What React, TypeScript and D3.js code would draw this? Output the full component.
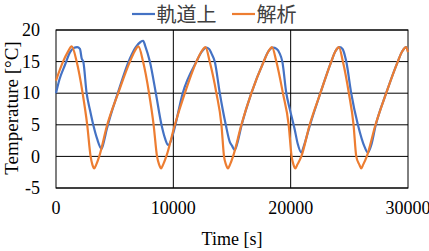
import React from "react";
import * as d3 from "d3";

const orbitT = [0, 300, 770, 1200, 1550, 1800, 2040, 2190, 2325, 2610, 2900, 3175, 3500, 3890, 4100, 4315, 5300, 6300, 6800, 7200, 7430, 7600, 8000, 8510, 8990, 9300, 9560, 9800, 10040, 10800, 11970, 12400, 12800, 13050, 13250, 13530, 13960, 14470, 14810, 15000, 15230, 15510, 15800, 16650, 17700, 18100, 18490, 18800, 19060, 19290, 19630, 19910, 20340, 20600, 20910, 21100, 21620, 22530, 23460, 23800, 24170, 24420, 24680, 24740, 25160, 25730, 26300, 26580, 26870, 27230, 28140, 29130, 29500, 29840, 30000];
const orbitV = [10.0, 12.2, 14.5, 16.5, 17.2, 17.3, 17.0, 15.5, 15.0, 10.0, 7.3, 5.0, 2.8, 1.2, 2.5, 4.2, 10.2, 15.5, 17.3, 18.1, 18.3, 17.5, 15.0, 10.0, 5.0, 2.8, 1.8, 2.5, 4.0, 10.0, 15.0, 16.5, 17.2, 17.0, 16.3, 15.0, 10.0, 5.0, 2.3, 1.7, 1.0, 2.5, 4.8, 10.0, 15.0, 16.6, 17.2, 17.0, 16.3, 15.0, 10.0, 7.6, 4.3, 2.0, 0.6, 1.5, 4.8, 10.0, 15.0, 16.6, 17.3, 17.0, 15.5, 15.0, 10.0, 5.0, 1.5, 0.6, 1.8, 4.8, 10.0, 15.0, 16.6, 17.3, 16.6];

const analT = [0, 600, 1000, 1340, 1760, 2270, 2660, 2950, 3100, 3260, 3430, 3685, 4365, 5300, 6300, 6700, 7020, 7420, 7930, 8320, 8610, 8790, 8960, 9130, 9400, 10130, 10980, 11970, 12400, 12740, 13100, 13670, 14100, 14320, 14490, 14660, 14830, 15090, 15800, 16650, 17700, 18100, 18410, 18780, 19340, 19830, 20080, 20240, 20400, 20570, 20910, 21620, 22530, 23460, 23800, 24110, 24450, 24960, 25360, 25590, 25850, 26010, 26180, 26490, 27230, 28140, 29130, 29500, 29840, 30000];
const analV = [12.0, 15.0, 16.5, 17.4, 15.0, 10.0, 5.0, 0.0, -1.3, -1.9, -1.3, 0.0, 5.0, 10.0, 15.0, 16.6, 17.4, 15.0, 10.0, 5.0, 0.0, -1.3, -1.9, -1.3, 0.0, 5.0, 10.0, 15.0, 16.6, 17.3, 15.0, 10.0, 5.0, 0.0, -1.3, -1.9, -1.3, 0.0, 5.0, 10.0, 15.0, 16.6, 17.3, 15.0, 10.0, 5.0, 0.0, -1.3, -1.9, -1.3, 0.0, 5.0, 10.0, 15.0, 16.6, 17.3, 15.0, 10.0, 5.0, 0.0, -1.3, -1.9, -1.3, 0.0, 5.0, 10.0, 15.0, 16.6, 17.3, 16.5];

const xTicks = [0, 10000, 20000, 30000];
const xGrid = [10000, 20000];
const yTicks = [-5, 0, 5, 10, 15, 20];
const seriesNames = ["軌道上", "解析"];
const seriesColors = ["#4472C4", "#ED7D31"];

export default function App() {
  const W = 429, H = 251;
  const L = 56, R = 408, T = 30, B = 188;
  const x = d3.scaleLinear().domain([0, 30000]).range([L, R]);
  const y = d3.scaleLinear().domain([-5, 20]).range([B, T]);
  const line = d3.line<[number, number]>().x(d => x(d[0])).y(d => y(d[1])).curve(d3.curveMonotoneX);
  const orbit: [number, number][] = orbitT.map((t, i) => [t, orbitV[i]]);
  const anal: [number, number][] = analT.map((t, i) => [t, analV[i]]);
  const serif = "'Liberation Serif', 'Times New Roman', serif";
  const cjk = "'Noto Sans CJK JP', sans-serif";
  return (
    <svg width={W} height={H} style={{ position: "absolute", left: 0, top: 0, background: "#fff" }}>
      <rect x={0} y={0} width={W} height={H} fill="#fff" />
      {yTicks.map(v => (
        <line key={"gy" + v} x1={L} x2={R} y1={y(v)} y2={y(v)} stroke="#000" strokeWidth={1} />
      ))}
      {xGrid.map(v => (
        <line key={"gx" + v} x1={x(v)} x2={x(v)} y1={T} y2={B} stroke="#000" strokeWidth={1} />
      ))}
      <rect x={L} y={T} width={R - L} height={B - T} fill="none" stroke="#000" strokeWidth={1} />
      <path d={line(orbit) || ""} fill="none" stroke={seriesColors[0]} strokeWidth={2.2} strokeLinejoin="round" />
      <path d={line(anal) || ""} fill="none" stroke={seriesColors[1]} strokeWidth={2.2} strokeLinejoin="round" />
      {yTicks.map(v => (
        <text key={"ty" + v} x={40} y={y(v)} dy="0.34em" textAnchor="end" fontFamily={serif} fontSize={18} fill="#000">{v}</text>
      ))}
      {xTicks.map(v => (
        <text key={"tx" + v} x={x(v)} y={213.5} textAnchor="middle" fontFamily={serif} fontSize={18} fill="#000">{v}</text>
      ))}
      <text x={(L + R) / 2} y={245} textAnchor="middle" fontFamily={serif} fontSize={18} fill="#000">Time [s]</text>
      <text transform={`translate(17.5, 108) rotate(-90)`} textAnchor="middle" fontFamily={serif} fontSize={19} fill="#000">Temperature [°C]</text>
      <line x1={132} x2={155} y1={14} y2={14} stroke={seriesColors[0]} strokeWidth={2.2} />
      <text x={156.5} y={22} fontFamily={cjk} fontSize={20} fill="#404040">{seriesNames[0]}</text>
      <line x1={232} x2={255} y1={14} y2={14} stroke={seriesColors[1]} strokeWidth={2.2} />
      <text x={256.5} y={22} fontFamily={cjk} fontSize={20} fill="#404040">{seriesNames[1]}</text>
    </svg>
  );
}
